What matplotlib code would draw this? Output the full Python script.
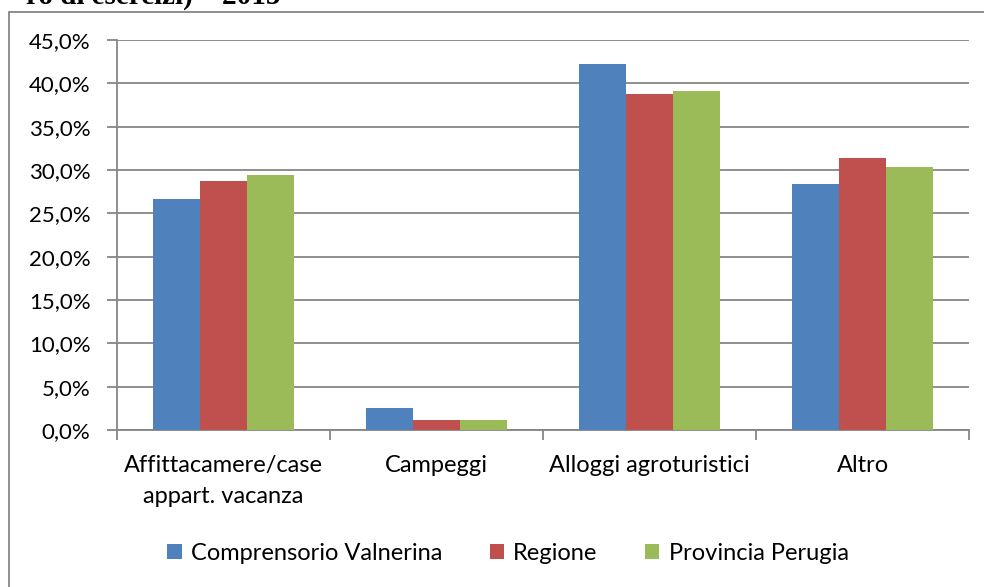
import matplotlib
matplotlib.use("Agg")
import matplotlib.pyplot as plt
import numpy as np
from matplotlib.ticker import FuncFormatter
from matplotlib.patches import Rectangle

categories = ["Affittacamere/case\nappart. vacanza", "Campeggi", "Alloggi agroturistici", "Altro"]
series_names = ["Comprensorio Valnerina", "Regione", "Provincia Perugia"]
valnerina = [26.7, 2.5, 42.2, 28.4]
regione = [28.7, 1.2, 38.8, 31.4]
perugia = [29.4, 1.1, 39.1, 30.4]
colors = ["#4F81BD", "#C0504D", "#9BBB59"]
yticks = np.arange(0, 45.1, 5)

FONT = "Lato"
W, H = 984, 587
fig = plt.figure(figsize=(W / 100, H / 100), dpi=100)
fig.patch.set_facecolor("white")

# chart area border (extends beyond right/bottom edges)
fig.patches.append(Rectangle((9 / W, -0.1), 1.2, 1 - 12 / H + 0.1, transform=fig.transFigure,
                             fill=False, edgecolor="#868686", linewidth=1.3))

# clipped title fragment
fig.text(281 / W, 1 - 4 / H, "ro di esercizi) – 2015", family="Liberation Serif",
         weight="bold", fontsize=21, ha="right", va="baseline")

left, right, top, bottom = 117, 969, 40, 430
ax = fig.add_axes([left / W, 1 - bottom / H, (right - left) / W, (bottom - top) / H])
n = len(categories)
x = np.arange(n)
bw = 0.22
for i, (vals, name, c) in enumerate(zip([valnerina, regione, perugia], series_names, colors)):
    ax.bar(x + (i - 1) * bw, vals, width=bw, color=c, label=name, zorder=3)

ax.set_xlim(-0.5, n - 0.5)
ax.set_ylim(0, 45)
ax.set_yticks(yticks)
ax.yaxis.set_major_formatter(FuncFormatter(lambda v, p: f"{v:.1f}%".replace(".", ",")))
ax.grid(axis="y", color="#868686", linewidth=1.3, zorder=0)
ax.set_xticks(np.arange(n + 1) - 0.5, minor=False)
ax.set_xticklabels([])
ax.set_xticks(x, minor=True)
ax.set_xticklabels(categories, minor=True, family=FONT, fontsize=17, linespacing=1.6)
ax.tick_params(axis="x", which="minor", length=0, pad=18)
ax.tick_params(axis="x", which="major", length=7, color="#868686", width=1.3)
ax.tick_params(axis="y", length=7, color="#868686", width=1.3, pad=12, labelsize=16)
for lab in ax.get_yticklabels():
    lab.set_family(FONT)
for s in ["top", "right"]:
    ax.spines[s].set_visible(False)
for s in ["left", "bottom"]:
    ax.spines[s].set_color("#868686")
    ax.spines[s].set_linewidth(1.3)

leg = fig.legend(loc="center", bbox_to_anchor=(508 / W, 1 - 553 / H), ncol=3, frameon=False,
                 prop={"family": FONT, "size": 17}, handlelength=0.6, handleheight=0.6,
                 handletextpad=0.4, columnspacing=2.0)

fig.savefig("out.png", dpi=100)
